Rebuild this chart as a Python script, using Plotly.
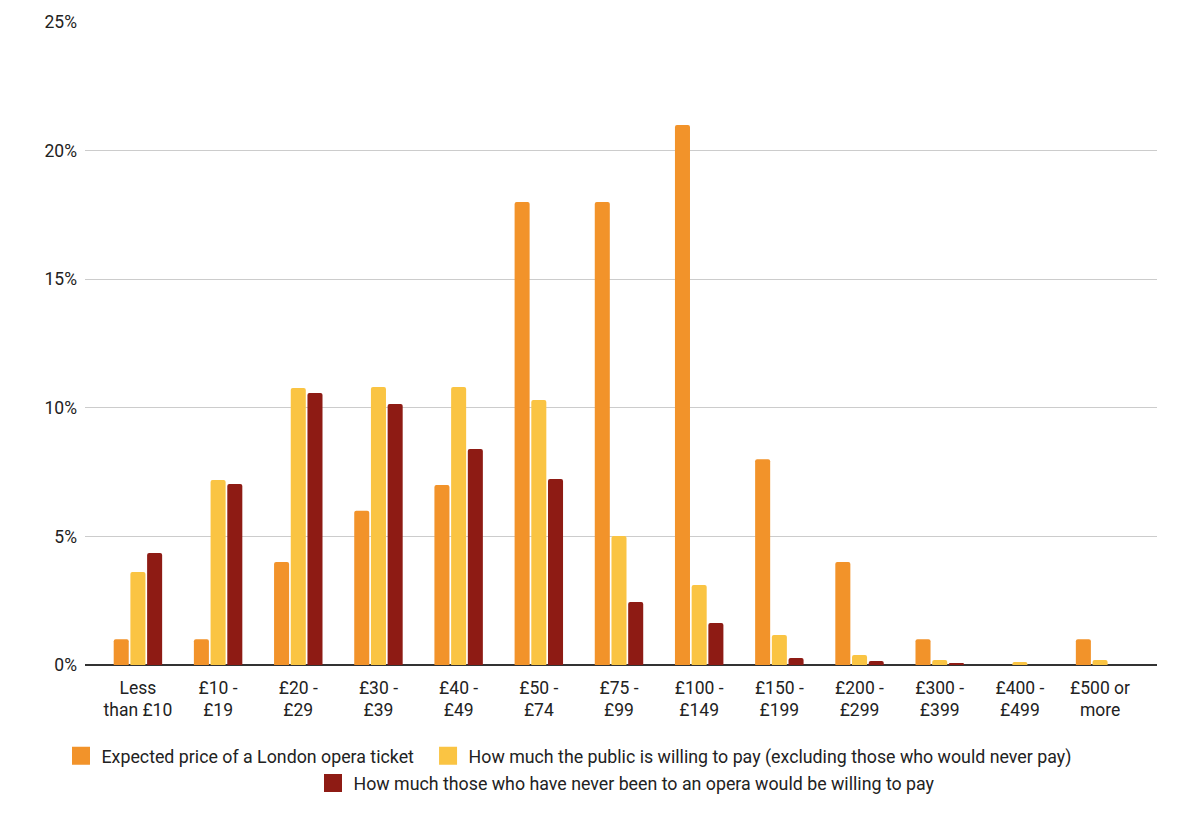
import plotly.graph_objects as go

categories = ["Less<br>than £10", "£10 -<br>£19", "£20 -<br>£29", "£30 -<br>£39", "£40 -<br>£49",
              "£50 -<br>£74", "£75 -<br>£99", "£100 -<br>£149", "£150 -<br>£199", "£200 -<br>£299",
              "£300 -<br>£399", "£400 -<br>£499", "£500 or<br>more"]

expected_price = [1, 1, 4, 6, 7, 18, 18, 21, 8, 4, 1, 0, 1]
public_willing = [3.62, 7.19, 10.77, 10.81, 10.81, 10.3, 5.02, 3.11, 1.17, 0.39, 0.19, 0.12, 0.19]
never_been = [4.35, 7.04, 10.58, 10.15, 8.4, 7.23, 2.45, 1.63, 0.27, 0.16, 0.06, 0, 0]

series_names = ["Expected price of a London opera ticket",
                "How much the public is willing to pay (excluding those who would never pay)",
                "How much those who have never been to an opera would be willing to pay"]

colors = ["#F2932A", "#FAC443", "#8E1B14"]
series_values = [expected_price, public_willing, never_been]
legend_ids = ["legend", "legend3", "legend2"]

fig = go.Figure()
for name, vals, col in zip(series_names, series_values, colors):
    fig.add_trace(go.Bar(x=categories, y=vals, name=name, showlegend=False,
                         marker=dict(color=col, line_width=0)))

# legend swatches (larger squares, as in the reference)
for name, col, lg in zip(series_names, colors, legend_ids):
    fig.add_trace(go.Scatter(x=[None], y=[None], mode="markers", name=name, legend=lg,
                             marker=dict(symbol="square", size=16, color=col,
                                         line=dict(color=col, width=2)),
                             hoverinfo="skip"))

tick_font = dict(family="Roboto", size=17.5, color="#222222")
legend_font = dict(family="Roboto", size=17.8, color="#222222")

def legend_cfg(x, y):
    return dict(orientation="h", xref="container", yref="container", x=x, y=y,
                xanchor="left", yanchor="middle", font=legend_font, itemclick=False,
                itemwidth=31, bgcolor="rgba(0,0,0,0)")

fig.update_layout(
    width=1200, height=817,
    margin=dict(l=85, r=43, t=22, b=152),
    paper_bgcolor="white", plot_bgcolor="white",
    font=tick_font,
    barmode="group", bargap=0.375, bargroupgap=0.1,
    barcornerradius=2,
    xaxis=dict(range=[-0.66, 12.71], showgrid=False, showline=False, ticks="",
               tickfont=tick_font, fixedrange=True, automargin=False, ticklabelstandoff=10),
    yaxis=dict(range=[0, 25], dtick=5, ticksuffix="%", showgrid=True, gridcolor="#CCCCCC",
               gridwidth=1, zeroline=True, zerolinecolor="#333333", zerolinewidth=2,
               showline=False, ticks="", tickfont=tick_font, ticklabelstandoff=7,
               automargin=False),
    legend=legend_cfg(0.0504, 0.0745),
    legend3=legend_cfg(0.3563, 0.0745),
    legend2=legend_cfg(0.2604, 0.0412),
    showlegend=True,
)

fig.write_html("out.html", config={"displayModeBar": False},
               post_script="document.body.style.margin='0';")
